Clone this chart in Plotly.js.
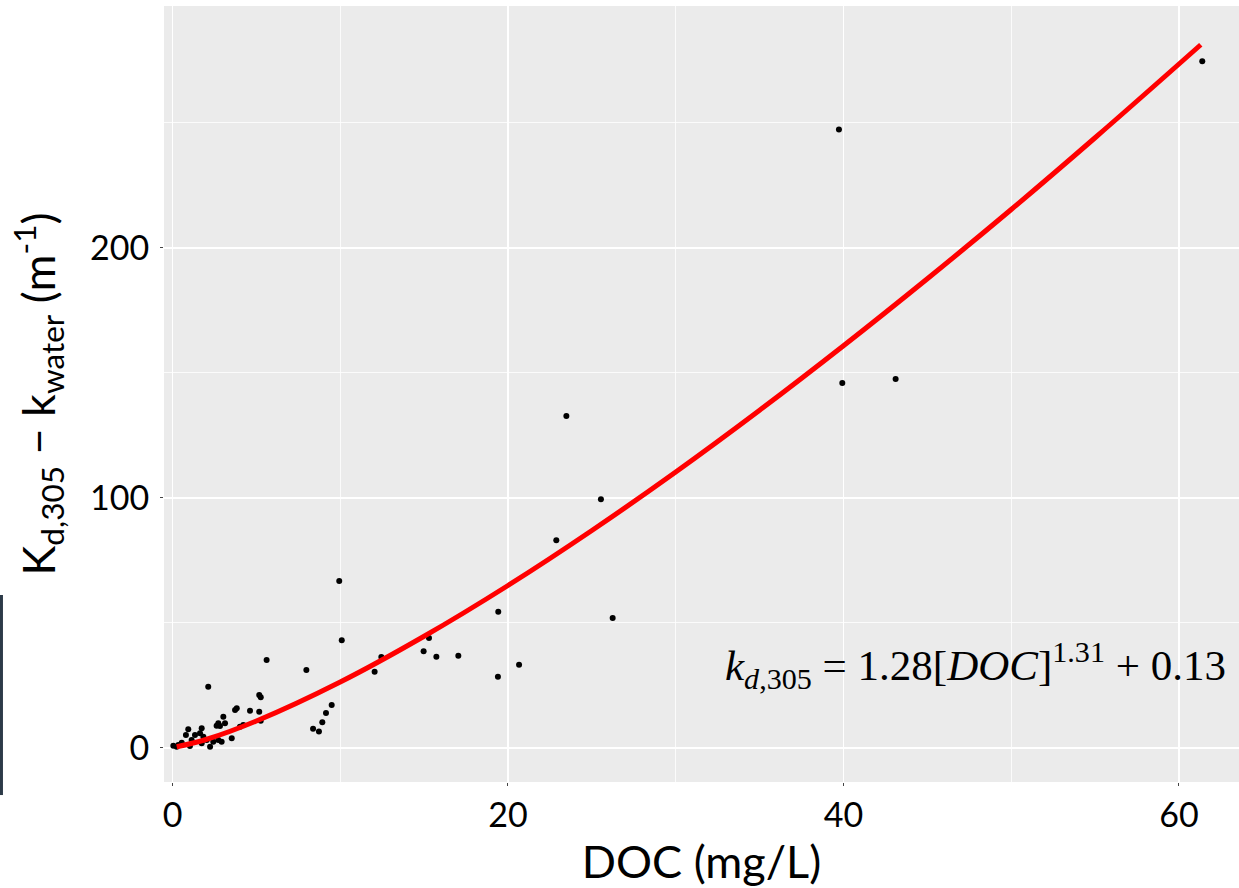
<!DOCTYPE html>
<html>
<head>
<meta charset="utf-8">
<script src="https://cdn.plot.ly/plotly-3.0.1.min.js"></script>
<style>
  html, body { margin: 0; padding: 0; background: #ffffff; }
  #chart { width: 1239px; height: 888px; }
</style>
</head>
<body>
<div id="chart"></div>
<script>
// Observed samples: DOC (mg/L) and Kd,305 - kwater (1/m)
var docValues = [61.39, 39.73, 39.93, 43.11, 23.48, 25.54, 22.88, 26.24, 19.42, 19.40,
  20.66, 17.04, 15.73, 15.29, 14.97, 12.45, 12.05, 9.94, 10.09, 7.98,
  9.49, 9.15, 8.93, 8.38, 8.73, 5.61, 2.13, 5.17, 5.26, 3.83,
  3.73, 3.03, 4.62, 5.17, 3.13, 2.73, 2.63, 2.83, 4.02, 5.26,
  3.53, 0.94, 1.74, 0.80, 1.34, 1.64, 1.84, 1.14, 2.04, 1.04,
  1.74, 2.24, 2.43, 2.73, 2.93, 0.35, 0.25, 0.55, 0.05, 4.22];
var kdValues = [274.6, 247.3, 145.9, 147.5, 132.7, 99.4, 83.0, 51.9, 54.4, 28.4,
  33.2, 36.8, 36.4, 43.9, 38.6, 36.3, 30.4, 66.7, 43.0, 31.1,
  17.1, 13.9, 10.2, 7.6, 6.5, 35.1, 24.4, 21.1, 20.2, 15.8,
  15.1, 12.4, 14.8, 14.4, 9.8, 9.8, 8.8, 8.7, 8.4, 10.8,
  3.8, 7.4, 7.8, 5.1, 5.1, 5.8, 4.4, 3.1, 3.1, 0.7,
  1.8, 0.4, 2.4, 3.1, 2.4, 1.1, 0.4, 2.0, 0.8, 9.1];

// Fitted curve
var fitDoc = [0.25, 2, 5, 10, 15, 20, 25, 30, 35, 40, 45, 50, 55, 61.3];
var fitKd  = [0.4, 3.3, 10.7, 26.3, 44.6, 64.9, 86.9, 110.3, 135.0, 160.8, 187.6, 215.3, 244.0, 281.2];

var xTickVals = [0, 20, 40, 60];
var xTickText = ['0', '20', '40', '60'];
var yTickVals = [0, 100, 200];
var yTickText = ['0', '100', '200'];

var equationText = '<i>k</i><sub><i>d</i>,305</sub> = 1.28[<i>DOC</i>]<sup>1.31</sup> + 0.13';

var traces = [
  {
    x: docValues, y: kdValues, type: 'scatter', mode: 'markers',
    marker: { color: '#000000', size: 6 },
    hoverinfo: 'x+y', showlegend: false
  },
  {
    x: fitDoc, y: fitKd, type: 'scatter', mode: 'lines',
    line: { color: '#ff0000', width: 5, shape: 'spline' },
    hoverinfo: 'skip', showlegend: false
  }
];

var layout = {
  width: 1239, height: 888,
  margin: { l: 164, r: 0, t: 6, b: 106, pad: 0 },
  paper_bgcolor: '#ffffff',
  plot_bgcolor: '#ebebeb',
  font: { family: 'Lato, "Open Sans", sans-serif', color: '#000000' },
  xaxis: {
    range: [-0.507, 63.58],
    tickmode: 'array', tickvals: xTickVals, ticktext: xTickText,
    tickfont: { size: 34, color: '#000000' },
    ticks: 'outside', ticklen: 3, tickwidth: 1, tickcolor: '#444444',
    showgrid: true, gridcolor: '#ffffff', gridwidth: 1.6,
    minor: { dtick: 10, tick0: 0, showgrid: true, gridcolor: '#ffffff', gridwidth: 0.8, ticks: '' },
    zeroline: false, showline: false,
    title: { text: 'DOC (mg/L)', font: { size: 45, color: '#000000' }, standoff: 15 }
  },
  yaxis: {
    range: [-13.7, 296.7],
    tickmode: 'array', tickvals: yTickVals, ticktext: yTickText,
    tickfont: { size: 34, color: '#000000' },
    ticks: 'outside', ticklen: 3, tickwidth: 1, tickcolor: '#444444',
    ticklabelstandoff: 4,
    showgrid: true, gridcolor: '#ffffff', gridwidth: 1.6,
    minor: { dtick: 50, tick0: 0, showgrid: true, gridcolor: '#ffffff', gridwidth: 0.8, ticks: '' },
    zeroline: false, showline: false,
    title: { text: 'K<sub>d,305</sub> − k<sub>water</sub> (m<sup>-1</sup>)', font: { size: 45, color: '#000000' }, standoff: 20 }
  },
  annotations: [
    {
      xref: 'x', yref: 'y', x: 62.9, y: 33, xanchor: 'right', yanchor: 'middle',
      text: equationText, showarrow: false,
      font: { family: '"Liberation Serif", "DejaVu Serif", serif', size: 43, color: '#000000' }
    }
  ],
  shapes: [
    {
      type: 'rect', xref: 'paper', yref: 'paper',
      x0: -0.1526, x1: -0.1498, y0: -0.0168, y1: 0.241,
      line: { width: 0 }, fillcolor: '#2c3a48', layer: 'above'
    }
  ]
};

Plotly.newPlot('chart', traces, layout, { displayModeBar: false, staticPlot: true });
</script>
</body>
</html>
